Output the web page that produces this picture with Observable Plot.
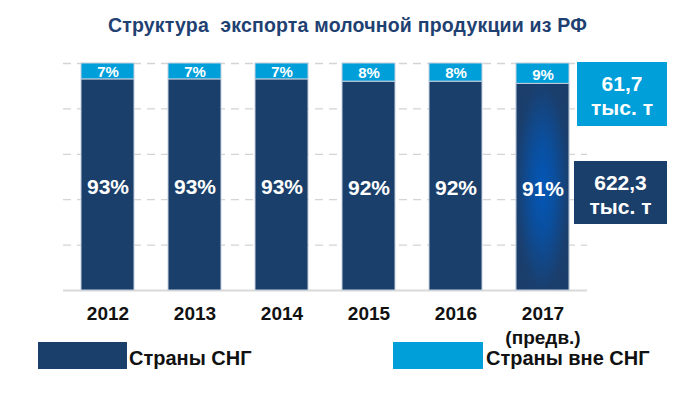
<!DOCTYPE html>
<html>
<head>
<meta charset="utf-8">
<script src="https://cdn.jsdelivr.net/npm/d3@7"></script>
<script src="https://cdn.jsdelivr.net/npm/@observablehq/plot@0.6"></script>
<style>
  html, body { margin: 0; padding: 0; background: #ffffff; }
  body { width: 695px; height: 394px; overflow: hidden; font-family: "Liberation Sans", Arial, sans-serif; }
  #wrap { position: relative; width: 695px; height: 394px; }
  #title { position: absolute; left: 0; top: 16px; width: 695px; text-align: center; font-size: 19.5px; line-height: 19px; font-weight: bold; color: #1f4172; white-space: pre; letter-spacing: 0.2px; }
  #chart { position: absolute; left: 0; top: 40px; }
  .sw { position: absolute; height: 27px; }
  .lt { position: absolute; font-size: 20px; font-weight: bold; color: #111; line-height: 20px; white-space: nowrap; }
  .box { position: absolute; color: #fff; font-weight: bold; font-size: 21px; line-height: 24px; text-align: center; box-sizing: border-box; padding-top: 10px; }
</style>
</head>
<body>
<div id="wrap">
  <div id="title"></div>
  <div id="chart"></div>
  <div id="legend"></div>
  <div id="boxes"></div>
</div>
<script>
// ---- data ----
const titleText = "Структура  экспорта молочной продукции из РФ";
const years = ["2012", "2013", "2014", "2015", "2016", "2017"];
const yearLabels = ["2012", "2013", "2014", "2015", "2016", "2017\n(предв.)"];
const seriesNames = ["Страны СНГ", "Страны вне СНГ"];
const cisShare = [93, 93, 93, 92, 92, 91];
const nonCisShare = [7, 7, 7, 8, 8, 9];
const gridTicks = [20, 40, 60, 80, 100];
const volumes2017 = ["622,3", "61,7"];   // тыс. т, СНГ / вне СНГ
const volumeUnit = "тыс. т";

// ---- styles ----
const colors = ["#1b3f6b", "#009fda"];

const rows = [];
years.forEach((y, i) => {
  rows.push({year: y, series: seriesNames[0], value: cisShare[i], lo: 0, hi: cisShare[i]});
  rows.push({year: y, series: seriesNames[1], value: nonCisShare[i], lo: cisShare[i], hi: cisShare[i] + nonCisShare[i]});
});

document.getElementById("title").textContent = titleText;

const gradientDefs = () => {
  const defs = d3.create("svg:defs");
  const g = defs.append("radialGradient").attr("id", "g2017")
    .attr("cx", "0.5").attr("cy", "0.5").attr("r", "0.62");
  g.append("stop").attr("offset", "0").attr("stop-color", "#0357b8");
  g.append("stop").attr("offset", "0.35").attr("stop-color", "#0a4f9f");
  g.append("stop").attr("offset", "0.8").attr("stop-color", "#1a3f6e");
  g.append("stop").attr("offset", "1").attr("stop-color", "#1b3d6a");
  return defs.node();
};

const last = years[years.length - 1];

const chart = Plot.plot({
  width: 695,
  height: 300,
  marginTop: 23,
  marginBottom: 50,
  marginLeft: 63,
  marginRight: 108,
  style: {fontFamily: "'Liberation Sans', Arial, sans-serif", background: "transparent", overflow: "visible"},
  x: {domain: years, paddingInner: 0.393, paddingOuter: 0.196, axis: null},
  y: {domain: [0, 100], axis: null},
  marks: [
    gradientDefs,
    Plot.ruleY(gridTicks, {stroke: "#d4d4d4", strokeWidth: 1.3, strokeDasharray: "8,6"}),
    Plot.ruleY([0], {stroke: "#d9d9d9", strokeWidth: 2}),
    Plot.barY(rows, {
      x: "year", y1: "lo", y2: "hi",
      fill: d => colors[seriesNames.indexOf(d.series)],
      stroke: "#c3cfdd", strokeWidth: 1
    }),
    Plot.barY(rows.filter(d => d.year === last && d.series === seriesNames[0]), {
      x: "year", y1: "lo", y2: "hi", fill: "url(#g2017)", stroke: "#c3cfdd", strokeWidth: 1
    }),
    Plot.text(rows.filter(d => d.series === seriesNames[0]), {
      x: "year", y: d => (d.lo + d.hi) / 2, text: d => d.value + "%",
      fill: "#fff", fontSize: 21, fontWeight: "bold", dy: 2
    }),
    Plot.text(rows.filter(d => d.series === seriesNames[1]), {
      x: "year", y: d => (d.lo + d.hi) / 2, text: d => d.value + "%",
      fill: "#fff", fontSize: 15, fontWeight: "bold", letterSpacing: 1, dy: 1
    }),
    Plot.axisX({
      tickSize: 0, tickPadding: 13, label: null,
      tickFormat: d => yearLabels[years.indexOf(d)],
      fontSize: 19, fontWeight: "bold", fill: "#111", lineHeight: 1.24
    })
  ]
});
document.getElementById("chart").appendChild(chart);

// ---- legend ----
const legend = document.getElementById("legend");
const legendPos = [{sx: 38, sw: 89, tx: 129}, {sx: 393, sw: 90, tx: 486}];
seriesNames.forEach((name, i) => {
  const sw = document.createElement("div");
  sw.className = "sw";
  sw.style.left = legendPos[i].sx + "px";
  sw.style.top = "342px";
  sw.style.width = legendPos[i].sw + "px";
  sw.style.background = colors[i];
  legend.appendChild(sw);
  const t = document.createElement("div");
  t.className = "lt";
  t.style.left = legendPos[i].tx + "px";
  t.style.top = "348px";
  t.textContent = name;
  legend.appendChild(t);
});

// ---- 2017 volume boxes ----
const boxes = document.getElementById("boxes");
const boxPos = [{l: 574, t: 161, w: 93, h: 63}, {l: 577, t: 62, w: 90, h: 64}];
volumes2017.forEach((v, i) => {
  const b = document.createElement("div");
  b.className = "box";
  b.style.left = boxPos[i].l + "px";
  b.style.top = boxPos[i].t + "px";
  b.style.width = boxPos[i].w + "px";
  b.style.height = boxPos[i].h + "px";
  b.style.background = colors[i];
  b.innerHTML = "<div>" + v + "</div><div>" + volumeUnit + "</div>";
  boxes.appendChild(b);
});
</script>
</body>
</html>
